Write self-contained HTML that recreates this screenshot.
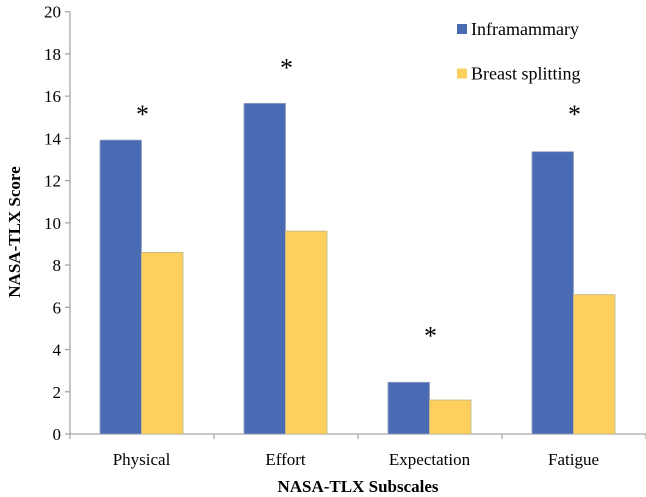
<!DOCTYPE html>
<html><head><meta charset="utf-8"><style>
html,body{margin:0;padding:0;background:#fff;}
svg{display:block;}
</style></head><body>
<svg id="chart" width="646" height="497"></svg>
<script>
const categories = ["Physical","Effort","Expectation","Fatigue"];
const inframammary = [13.92,15.66,2.45,13.37];
const breastSplitting = [8.6,9.61,1.61,6.6];
const significant = [true,true,true,true];
const asteriskValues = [15.3,17.5,4.8,15.3];
const yTicks = [0,2,4,6,8,10,12,14,16,18,20];

const svg = document.getElementById('chart');
const NS = 'http://www.w3.org/2000/svg';
const FONT = '"Liberation Serif", "Noto Serif CJK SC", "DejaVu Serif", serif';
const x0 = 70, x1 = 646, y0 = 434, yTop = 11.7, yMax = 20;
const groupW = (x1 - x0) / categories.length;
const barW = 41.5;
function yScale(v){ return y0 - (v / yMax) * (y0 - yTop); }
function groupStart(i){ return x0 + i * groupW; }
function mk(tag, attrs){ const e = document.createElementNS(NS, tag); for (const k in attrs) e.setAttribute(k, attrs[k]); if (tag === 'text') e.setAttribute('font-family', FONT); svg.appendChild(e); return e; }

let ax = mk('line',{x1:x0,y1:yTop,x2:x0,y2:y0,stroke:'#a6a6a6','stroke-width':1.3});


ax = mk('line',{x1:x0,y1:y0,x2:x1,y2:y0,stroke:'#a6a6a6','stroke-width':1.3});



yTicks.forEach(t => {
  const y = yScale(t);
  const l = mk('line',{x1:x0-5,y1:y,x2:x0,y2:y,stroke:'#a6a6a6','stroke-width':1.3});
  
  
  const tx = mk('text',{x:x0-9,y:y+6,'text-anchor':'end','font-size':17,fill:'#000'});
  tx.textContent = t;
  
  
});
for (let i = 0; i <= categories.length; i++) {
  const x = groupStart(i);
  const l = mk('line',{x1:x,y1:y0,x2:x,y2:y0+5,stroke:'#a6a6a6','stroke-width':1.3});
  
  
}

categories.forEach((c, i) => {
  const gs = groupStart(i) + 30;
  const bA = mk('rect',{x:gs,y:yScale(inframammary[i]),width:barW,height:y0-yScale(inframammary[i]),fill:'#4a6ab4',stroke:'#9aa4bc','stroke-width':0.8});
  
  
  const bB = mk('rect',{x:gs+barW,y:yScale(breastSplitting[i]),width:barW,height:y0-yScale(breastSplitting[i]),fill:'#fdcf5c',stroke:'#bfb38a','stroke-width':0.8});
  
  
  const lb = mk('text',{x:gs+barW,y:465,'text-anchor':'middle','font-size':17,fill:'#000'});
  lb.textContent = c;
  
  
  if (significant[i]) {
    const s = mk('text',{x:gs+barW+1,y:yScale(asteriskValues[i])+12,'text-anchor':'middle','font-size':26,fill:'#000'});
    s.textContent = '*';
    
    
  }
});

let t = mk('text',{x:358,y:492,'text-anchor':'middle','font-size':17,'font-weight':'bold'});
t.textContent = 'NASA-TLX Subscales';


t = mk('text',{x:0,y:0,'text-anchor':'middle','font-size':17,'font-weight':'bold',transform:'translate(20,232) rotate(-90)'});
t.textContent = 'NASA-TLX Score';



const legendNames = ['Inframammary','Breast splitting'];
const legendColors = ['#4a6ab4','#fdcf5c'];
legendNames.forEach((n, i) => {
  const y = 24 + i * 44.5;
  const r = mk('rect',{x:457,y:y,width:10,height:10,fill:legendColors[i]});
  
  
  const tx = mk('text',{x:471,y:y+11,'font-size':18,fill:'#000'});
  tx.textContent = n;
  
  
});
</script>
</body></html>
